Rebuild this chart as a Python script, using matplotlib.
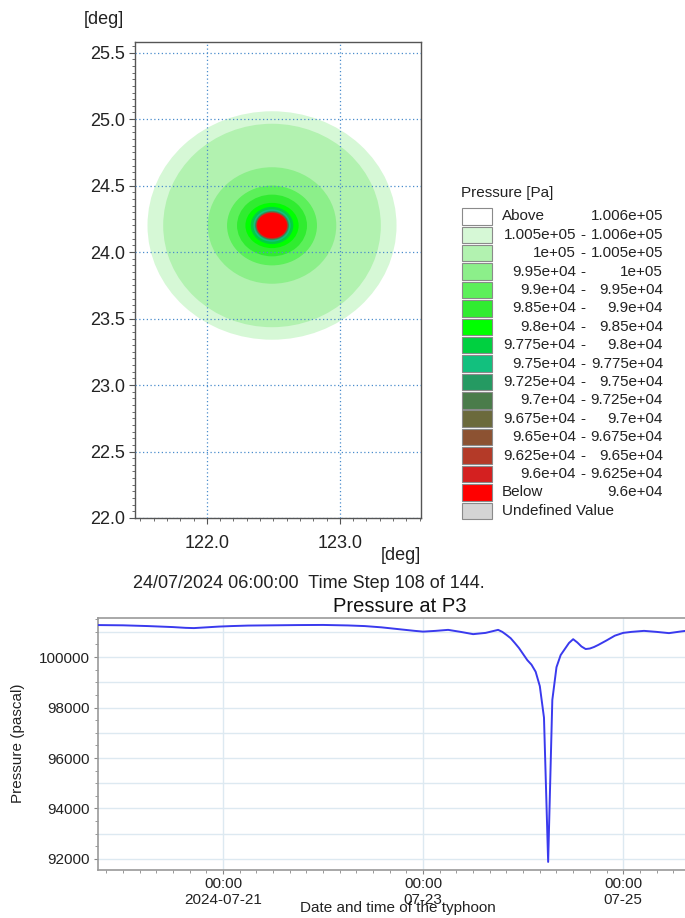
"""Typhoon pressure snapshot (map + point time series at P3)."""

import matplotlib
matplotlib.use("Agg")
import matplotlib.pyplot as plt
import matplotlib.dates as mdates
from matplotlib.patches import Ellipse, Rectangle
from matplotlib.ticker import MultipleLocator, FixedLocator, FixedFormatter
import pandas as pd

plt.rcParams["font.family"] = ["Liberation Sans", "DejaVu Sans"]

# legend class edges (Pa) and their colours, low -> high
levels = [96000, 96250, 96500, 96750, 97000, 97250, 97500, 97750,
          98000, 98500, 99000, 99500, 100000, 100500, 100600]
below_color = "#ff0000"
band_colors = ["#d42020", "#b43a28", "#8c5232", "#6b6a3c", "#4a7c4a",
               "#259a62", "#12c07e", "#00d040", "#00ff00", "#30ec30",
               "#5cf05a", "#8cef8a", "#b2f2b0", "#d6f8d6"]
above_color = "#ffffff"
undefined_color = "#d4d4d4"

# storm centre and band outer half-axes (deg)
storm_lon, storm_lat = 122.49, 24.2
band_rx = [0.114, 0.116, 0.118, 0.121, 0.124, 0.128, 0.14, 0.16,
           0.20, 0.263, 0.338, 0.483, 0.818, 0.936]
band_ry = [0.096, 0.098, 0.100, 0.103, 0.106, 0.110, 0.122, 0.14,
           0.17, 0.232, 0.300, 0.438, 0.765, 0.859]
core_rx, core_ry = 0.112, 0.094

# pressure at P3, hours after 2024-07-19 18:00
start = pd.Timestamp("2024-07-19 18:00")
hours = [0, 3, 6, 9, 12, 15, 18, 21, 23, 26, 29, 32, 36, 42, 48, 54, 60,
         64, 68, 72, 76, 78, 81, 84, 87, 90, 93, 96, 97, 98, 99, 100, 101,
         102, 103, 104, 105, 106, 107, 108, 109, 110, 111, 112, 113, 114,
         115, 116, 117, 118, 119, 120, 122, 124, 126, 128, 131, 134, 137,
         140, 141]
pressure = [101270, 101265, 101260, 101245, 101230, 101210, 101190, 101160,
            101150, 101180, 101210, 101230, 101250, 101260, 101270, 101275,
            101255, 101230, 101180, 101110, 101040, 101010, 101040, 101080,
            101000, 100910, 100960, 101080, 101000, 100880, 100750, 100560,
            100360, 100120, 99880, 99700, 99420, 98850, 97600, 91880, 98300,
            99600, 100080, 100320, 100560, 100710, 100580, 100420, 100320,
            100340, 100400, 100480, 100660, 100850, 100960, 101000, 101040,
            101000, 100950, 101020, 101040]

x_tick_dates = ["2024-07-21", "2024-07-23", "2024-07-25"]
x_tick_labels = ["00:00\n2024-07-21", "00:00\n07-23", "00:00\n07-25"]

W, H = 685, 918
fig = plt.figure(figsize=(W / 100, H / 100), dpi=100)


def fx(px):
    return px / W


def fy(py):
    return 1 - py / H


# ---------------- map ----------------
ax = fig.add_axes([fx(135), fy(518), fx(421) - fx(135), fy(42) - fy(518)])
ax.set_xlim(121.46, 123.61)
ax.set_ylim(22.0, 25.58)

for color, rx, ry in reversed(list(zip(band_colors, band_rx, band_ry))):
    ax.add_patch(Ellipse((storm_lon, storm_lat), 2 * rx, 2 * ry,
                         facecolor=color, edgecolor="none", zorder=1))
ax.add_patch(Ellipse((storm_lon, storm_lat), 2 * core_rx, 2 * core_ry,
                     facecolor=below_color, edgecolor="none", zorder=1))

ax.xaxis.set_major_locator(MultipleLocator(1.0))
ax.yaxis.set_major_locator(MultipleLocator(0.5))
ax.xaxis.set_minor_locator(MultipleLocator(0.1))
ax.yaxis.set_minor_locator(MultipleLocator(0.05))
ax.xaxis.set_major_formatter(plt.FormatStrFormatter("%.1f"))
ax.yaxis.set_major_formatter(plt.FormatStrFormatter("%.1f"))
ax.tick_params(which="both", direction="out", color="#555555",
               labelsize=13, labelcolor="#222222")
ax.tick_params(which="major", length=4)
ax.tick_params(which="minor", length=2.5)
ax.tick_params(axis="x", pad=8)
ax.tick_params(axis="y", pad=3)
ax.grid(True, which="major", color="#4a8ccc", linestyle=(0, (1, 2)),
        linewidth=0.9, zorder=2)
ax.set_axisbelow(False)
for sp in ax.spines.values():
    sp.set_color("#555555")
    sp.set_linewidth(1.0)

fig.text(fx(124), fy(20), "[deg]", ha="right", va="center",
         fontsize=13, color="#222222")
fig.text(fx(421), fy(555), "[deg]", ha="right", va="center",
         fontsize=13, color="#222222")
fig.text(fx(133), fy(583), "24/07/2024 06:00:00  Time Step 108 of 144.",
         ha="left", va="center", fontsize=13, color="#222222")

# ---------------- legend ----------------
fig.text(fx(461), fy(193), "Pressure [Pa]", ha="left", va="center",
         fontsize=11, color="#222222")
rows = [("Above", None, f"{levels[-1]:.4g}", above_color)]
for i in range(len(levels) - 2, -1, -1):
    rows.append((f"{levels[i]:.4g}", "-", f"{levels[i + 1]:.4g}",
                 band_colors[i]))
rows.append(("Below", None, f"{levels[0]:.4g}", below_color))
rows.append(("Undefined Value", None, "", undefined_color))

row0, step = 216.5, 18.4
for k, (left, dash, right, color) in enumerate(rows):
    yc = row0 + k * step
    fig.patches.append(Rectangle((fx(462), fy(yc + 8)), fx(30), 16.4 / H,
                                 transform=fig.transFigure,
                                 facecolor=color, edgecolor="#8a8a8a",
                                 linewidth=0.8))
    if dash is None:
        fig.text(fx(502), fy(yc), left, ha="left", va="center",
                 fontsize=11, color="#222222")
    else:
        fig.text(fx(576), fy(yc), left, ha="right", va="center",
                 fontsize=11, color="#222222")
        fig.text(fx(583), fy(yc), dash, ha="center", va="center",
                 fontsize=11, color="#222222")
    if right:
        fig.text(fx(663), fy(yc), right, ha="right", va="center",
                 fontsize=11, color="#222222")

# ---------------- time series ----------------
times = start + pd.to_timedelta(hours, unit="h")
ts = fig.add_axes([fx(98), fy(870), 1 - fx(98), fy(617.5) - fy(870)])
ts.plot(times, pressure, color="#3a3aee", linewidth=1.4, zorder=3)
ts.set_xlim(start, pd.Timestamp("2024-07-25 14:50"))
ts.set_ylim(91560, 101570)

for v in range(92000, 101001, 1000):
    ts.axhline(v, color="#dde9f1", linewidth=1.0, zorder=1)
major_x = [mdates.date2num(pd.Timestamp(d)) for d in x_tick_dates]
ts.xaxis.set_major_locator(FixedLocator(major_x))
ts.xaxis.set_major_formatter(FixedFormatter(x_tick_labels))
ts.xaxis.set_minor_locator(mdates.HourLocator(byhour=range(0, 24, 4)))
ts.yaxis.set_major_locator(MultipleLocator(2000))
ts.yaxis.set_minor_locator(MultipleLocator(500))
ts.yaxis.set_major_formatter(plt.FormatStrFormatter("%d"))
ts.grid(True, which="major", axis="x", color="#dde9f1", linewidth=1.0,
        zorder=1)
ts.tick_params(which="both", direction="out", color="#888888",
               labelsize=11, labelcolor="#222222")
ts.tick_params(which="major", length=3)
ts.tick_params(which="minor", length=2.5)
ts.tick_params(axis="x", pad=2)
ts.tick_params(axis="y", pad=3)
ts.spines["right"].set_visible(False)
for name in ("left", "bottom", "top"):
    ts.spines[name].set_color("#9a9a9a")
    ts.spines[name].set_linewidth(1.2)

fig.text(fx(400), fy(606), "Pressure at P3", ha="center", va="center",
         fontsize=14.5, color="#111111")
fig.text(fx(18), fy(743), "Pressure (pascal)", rotation=90, ha="center",
         va="center", fontsize=11, color="#222222")
fig.text(fx(398), fy(908), "Date and time of the typhoon", ha="center",
         va="center", fontsize=11, color="#222222")

fig.savefig("out.png", dpi=100)
